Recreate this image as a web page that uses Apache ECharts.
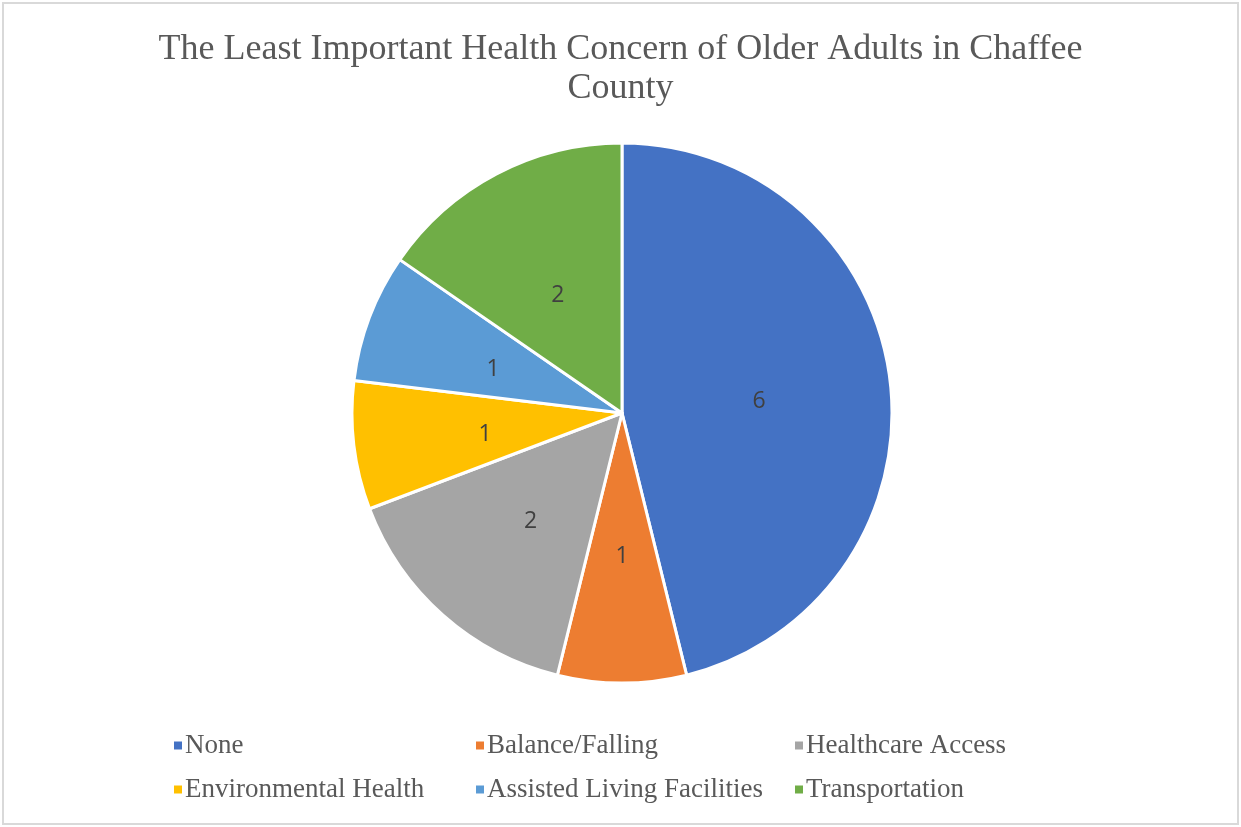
<!DOCTYPE html>
<html>
<head>
<meta charset="utf-8">
<script src="https://cdn.jsdelivr.net/npm/echarts@6/dist/echarts.min.js"></script>
<style>
  html, body { margin: 0; padding: 0; background: #fff; }
  #chart { width: 1241px; height: 827px; }
</style>
</head>
<body>
<div id="chart"></div>
<script>
// Survey answers: least important health concern
const categories = ['None', 'Balance/Falling', 'Healthcare Access', 'Environmental Health', 'Assisted Living Facilities', 'Transportation'];
const counts = [6, 1, 2, 1, 1, 2];
const colors = ['#4472C4', '#ED7D31', '#A5A5A5', '#FFC000', '#5B9BD5', '#70AD47'];
const titleText = 'The Least Important Health Concern of Older Adults in Chaffee\nCounty';

// legend columns (two rows, three columns)
const legendColumns = [
  ['None', 'Environmental Health'],
  ['Balance/Falling', 'Assisted Living Facilities'],
  ['Healthcare Access', 'Transportation']
];
const legendLefts = [169, 471, 790];

const serif = '"Liberation Serif", "Times New Roman", serif';

const chart = echarts.init(document.getElementById('chart'), null, { renderer: 'canvas' });

const legends = legendColumns.map((col, i) => ({
  data: col,
  orient: 'vertical',
  left: legendLefts[i],
  top: 727,
  itemGap: 17,
  icon: 'rect',
  itemWidth: 8,
  itemHeight: 8,
  itemStyle: { borderWidth: 0 },
  textStyle: { fontFamily: serif, fontSize: 27, color: '#595959', padding: [0, 0, 0, -2] },
  selectedMode: false
}));

chart.setOption({
  animation: false,
  backgroundColor: '#ffffff',
  color: colors,
  title: {
    text: titleText,
    left: 'center',
    top: 25,
    textStyle: {
      fontFamily: serif,
      fontSize: 36,
      fontWeight: 'normal',
      color: '#595959',
      lineHeight: 39
    }
  },
  legend: legends,
  graphic: [{
    type: 'rect',
    shape: { x: 3, y: 3, width: 1235, height: 821 },
    style: { fill: 'none', stroke: '#d9d9d9', lineWidth: 2 },
    silent: true
  }],
  series: [{
    type: 'pie',
    center: [622, 413],
    radius: 270,
    startAngle: 90,
    clockwise: true,
    data: categories.map((name, i) => ({ name, value: counts[i] })),
    itemStyle: { borderColor: '#ffffff', borderWidth: 3 },
    label: {
      show: true,
      position: 'inside',
      formatter: '{c}',
      fontFamily: '"Open Sans", "Liberation Sans", sans-serif',
      fontSize: 23,
      color: '#404040',
      offset: [0, 5]
    },
    labelLine: { show: false },
    emphasis: { disabled: true }
  }]
});
</script>
</body>
</html>
